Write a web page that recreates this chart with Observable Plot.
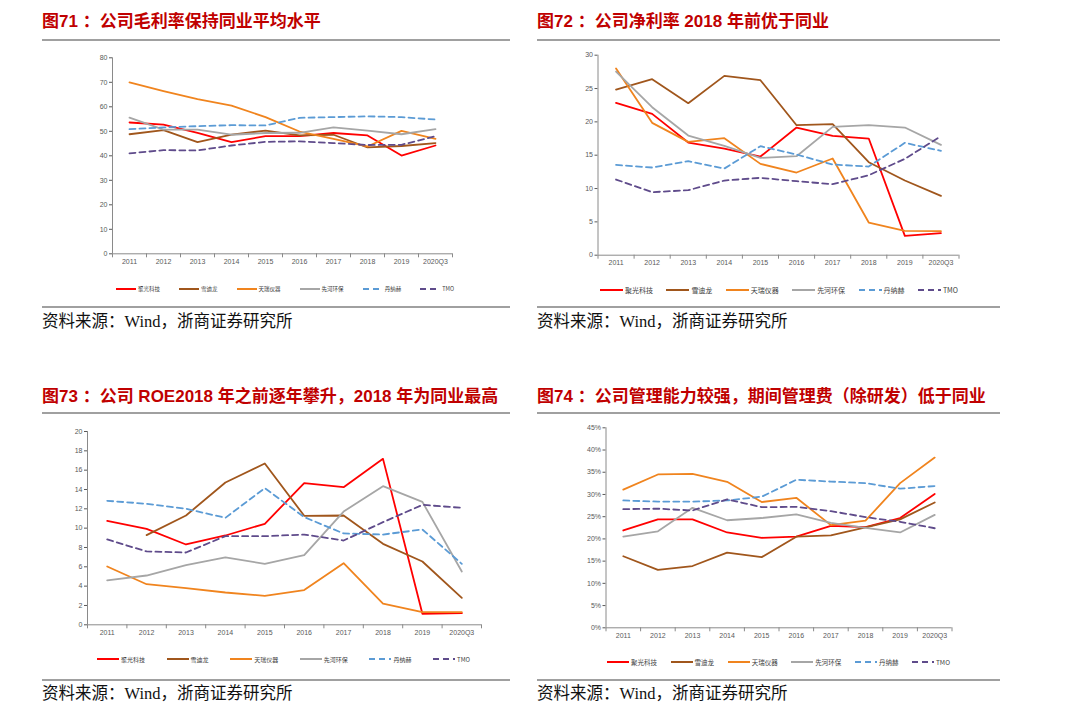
<!DOCTYPE html>
<html><head><meta charset="utf-8">
<script src="https://cdn.jsdelivr.net/npm/d3@7"></script>
<script src="https://cdn.jsdelivr.net/npm/@observablehq/plot@0.6"></script>
<style>
body{margin:0;background:#fff;width:1080px;height:728px;position:relative;overflow:hidden;font-family:"Liberation Sans",Arial,"Noto Sans CJK SC",sans-serif;}
.title{position:absolute;font-family:"Liberation Sans",Arial,"Noto Sans CJK SC",sans-serif;font-weight:bold;font-size:17px;line-height:20px;color:#C00000;white-space:nowrap;}
.rule{position:absolute;height:2px;background:#a0a0a0;}
.src{position:absolute;font-family:"Liberation Serif","Noto Sans CJK SC",serif;font-size:16.5px;line-height:18px;color:#111;white-space:nowrap;}
.chart{position:absolute;}
.legend{position:absolute;display:flex;justify-content:space-between;align-items:center;color:#404040;font-family:"Noto Sans CJK SC","Liberation Sans",sans-serif;white-space:nowrap;}
.legend .item{display:flex;align-items:center;}
.legend svg{margin-right:2px;}
</style></head>
<body>
<script>
// ---- data ----
const years = ["2011","2012","2013","2014","2015","2016","2017","2018","2019","2020Q3"];
const companies = ["聚光科技","雪迪龙","天瑞仪器","先河环保","丹纳赫","TMO"];
const colors = ["#FF0000","#A0561C","#F0841E","#A6A6A6","#5B9BD5","#5F4B8B"];
const dashes = [null,null,null,null,"6,4","6,4"];

// 图71 毛利率 (%)
const gm_juguang = [53.6,52.7,49.4,45.6,48.0,48.0,49.3,48.3,40.1,44.2];
const gm_xuedilong = [48.8,50.5,45.6,48.6,50.3,48.3,48.6,43.4,44.0,45.2];
const gm_tianrui = [70.0,66.4,63.1,60.5,55.8,49.9,46.9,43.8,50.2,46.9];
const gm_xianhe = [55.6,50.7,50.7,48.6,49.3,49.4,51.6,50.3,48.8,50.9];
const gm_danaher = [50.9,51.6,52.1,52.5,52.4,55.5,55.8,56.1,55.8,54.8];
const gm_tmo = [41.0,42.3,42.2,44.2,45.7,45.9,45.2,44.4,44.5,48.0];

// 图72 净利率 (%)
const np_juguang = [22.85,21.2,16.9,16.0,14.8,19.15,17.9,17.5,2.9,3.3];
const np_xuedilong = [24.85,26.4,22.8,26.9,26.25,19.5,19.65,13.95,11.2,8.9];
const np_tianrui = [28.0,19.85,17.0,17.55,13.7,12.4,14.5,4.9,3.65,3.6];
const np_xianhe = [27.55,22.2,17.95,16.4,14.6,14.85,19.25,19.5,19.15,16.55];
const np_danaher = [13.55,13.15,14.1,13.0,16.35,15.1,13.6,13.3,16.85,15.65];
const np_tmo = [11.35,9.45,9.75,11.2,11.6,11.1,10.65,12.0,14.45,17.85];

// 图73 ROE (%)
const roe_juguang = [10.76,9.93,8.31,9.24,10.45,14.66,14.24,17.17,1.14,1.2];
const roe_xuedilong = [null,9.28,11.31,14.72,16.69,11.28,11.31,8.38,6.55,2.79];
const roe_tianrui = [6.03,4.2,3.79,3.34,3.0,3.59,6.38,2.2,1.31,1.31];
const roe_xianhe = [4.59,5.1,6.17,6.97,6.31,7.21,11.72,14.34,12.72,5.52];
const roe_danaher = [12.83,12.52,12.0,11.07,14.14,11.14,9.45,9.34,9.86,6.31];
const roe_tmo = [8.83,7.59,7.48,9.17,9.17,9.34,8.72,10.62,12.41,12.1];

// 图74 管理费用率 (%)
const adm_juguang = [21.9,24.4,24.4,21.45,20.25,20.5,22.95,22.65,24.7,30.1];
const adm_xuedilong = [16.1,13.05,13.9,16.9,15.9,20.5,20.8,22.6,24.4,28.2];
const adm_tianrui = [31.1,34.5,34.65,32.85,28.3,29.25,23.1,24.1,32.55,38.3];
const adm_xianhe = [20.5,21.7,27.0,24.2,24.7,25.5,23.6,22.5,21.45,25.4];
const adm_danaher = [28.65,28.4,28.4,28.65,29.5,33.3,32.9,32.55,31.3,31.9];
const adm_tmo = [26.7,26.8,26.4,28.9,27.15,27.2,26.25,24.9,23.85,22.4];

const ticks71 = [0,10,20,30,40,50,60,70,80];
const ticks72 = [0,5,10,15,20,25,30];
const ticks73 = [0,2,4,6,8,10,12,14,16,18,20];
const ticks74 = [0,5,10,15,20,25,30,35,40,45];

const title71 = "图71 ：公司毛利率保持同业平均水平";
const title72 = "图72 ：公司净利率 2018 年前优于同业";
const title73 = "图73 ：公司 ROE2018 年之前逐年攀升，2018 年为同业最高";
const title74 = "图74 ：公司管理能力较强，期间管理费（除研发）低于同业";
const sourceText = "资料来源：Wind，浙商证券研究所";

// ---- layout ----
const panels = [
  {title: title71, series:[gm_juguang,gm_xuedilong,gm_tianrui,gm_xianhe,gm_danaher,gm_tmo], ticks: ticks71, fmt: d => d,
   px: 42, tTop: 12, rTop: 39, rW: 468, svg:{left:70, top:45, w:400, h:230, mL:42, mR:18, mT:12.3, mB:21.7},
   leg:{left:116, top:284, w:338, fs:5.5, sw:20}, bTop: 306, sTop: 313},
  {title: title72, series:[np_juguang,np_xuedilong,np_tianrui,np_xianhe,np_danaher,np_tmo], ticks: ticks72, fmt: d => d,
   px: 537, tTop: 12, rTop: 39, rW: 463, svg:{left:560, top:45, w:420, h:230, mL:37.5, mR:21.5, mT:9.7, mB:20.3},
   leg:{left:600, top:285, w:358, fs:7, sw:23}, bTop: 306, sTop: 313},
  {title: title73, series:[roe_juguang,roe_xuedilong,roe_tianrui,roe_xianhe,roe_danaher,roe_tmo], ticks: ticks73, fmt: d => d,
   px: 42, tTop: 387, rTop: 412, rW: 468, svg:{left:50, top:420, w:450, h:230, mL:37, mR:19, mT:11, mB:25.7},
   leg:{left:97, top:654, w:373, fs:6, sw:22}, bTop: 679, sTop: 685},
  {title: title74, series:[adm_juguang,adm_xuedilong,adm_tianrui,adm_xianhe,adm_danaher,adm_tmo], ticks: ticks74, fmt: d => d + "%",
   px: 537, tTop: 387, rTop: 412, rW: 463, svg:{left:565, top:415, w:410, h:235, mL:40.5, mR:23.5, mT:12.3, mB:22.7},
   leg:{left:607, top:657, w:343, fs:6.5, sw:22}, bTop: 679, sTop: 685}
];

function el(tag, cls, style, text) {
  const e = document.createElement(tag);
  if (cls) e.className = cls;
  Object.assign(e.style, style || {});
  if (text != null) e.textContent = text;
  document.body.appendChild(e);
  return e;
}

panels.forEach(p => {
  el("div", "title", {left: p.px + "px", top: p.tTop + "px"}, p.title);
  el("div", "rule", {left: p.px + "px", top: p.rTop + "px", width: p.rW + "px"});
  el("div", "rule", {left: p.px + "px", top: p.bTop + "px", width: p.rW + "px"});
  el("div", "src", {left: p.px + "px", top: p.sTop + "px"}, sourceText);

  const rows = [];
  companies.forEach((c, ci) => p.series[ci].forEach((v, i) => rows.push({company: c, idx: i, year: years[i], value: v})));
  const s = p.svg;
  const yMax = p.ticks[p.ticks.length - 1];
  const chart = Plot.plot({
    width: s.w, height: s.h,
    marginLeft: s.mL, marginRight: s.mR, marginTop: s.mT, marginBottom: s.mB,
    style: {fontFamily: "Liberation Sans, Arial, sans-serif", background: "transparent", overflow: "visible"},
    x: {domain: [-0.5, years.length - 0.5]},
    y: {domain: [0, yMax]},
    marks: [
      Plot.axisY({ticks: p.ticks, tickSize: 3, tickPadding: 2, tickFormat: p.fmt, fontSize: 7, color: "#595959", label: null}),
      Plot.axisX({ticks: years.map((_, i) => i), tickSize: 0, tickPadding: 5, tickFormat: i => years[i], fontSize: 7, color: "#595959", label: null}),
      Plot.axisX({ticks: d3.range(years.length + 1).map(i => i - 0.5), tickSize: 4, tickFormat: () => "", color: "#8a8a8a", label: null}),
      Plot.ruleY([0], {stroke: "#8a8a8a"}),
      Plot.ruleX([-0.5], {stroke: "#8a8a8a"}),
      ...companies.map((c, ci) => Plot.lineY(rows.filter(r => r.company === c), {
        x: "idx", y: "value", stroke: colors[ci], strokeWidth: 1.8,
        strokeDasharray: dashes[ci] || undefined, strokeLinejoin: "round"
      }))
    ]
  });
  const holder = el("div", "chart", {left: s.left + "px", top: s.top + "px"});
  holder.appendChild(chart);

  const L = p.leg;
  const leg = el("div", "legend", {left: L.left + "px", top: L.top + "px", width: L.w + "px", height: "10px", fontSize: L.fs + "px"});
  companies.forEach((c, ci) => {
    const item = document.createElement("div");
    item.className = "item";
    const ns = "http://www.w3.org/2000/svg";
    const sv = document.createElementNS(ns, "svg");
    sv.setAttribute("width", L.sw); sv.setAttribute("height", 6);
    const ln = document.createElementNS(ns, "line");
    ln.setAttribute("x1", 0); ln.setAttribute("x2", L.sw);
    ln.setAttribute("y1", 3); ln.setAttribute("y2", 3);
    ln.setAttribute("stroke", colors[ci]); ln.setAttribute("stroke-width", 2);
    if (dashes[ci]) ln.setAttribute("stroke-dasharray", dashes[ci]);
    sv.appendChild(ln);
    item.appendChild(sv);
    const t = document.createElement("span");
    t.textContent = c;
    item.appendChild(t);
    leg.appendChild(item);
  });
});
</script>
</body></html>
